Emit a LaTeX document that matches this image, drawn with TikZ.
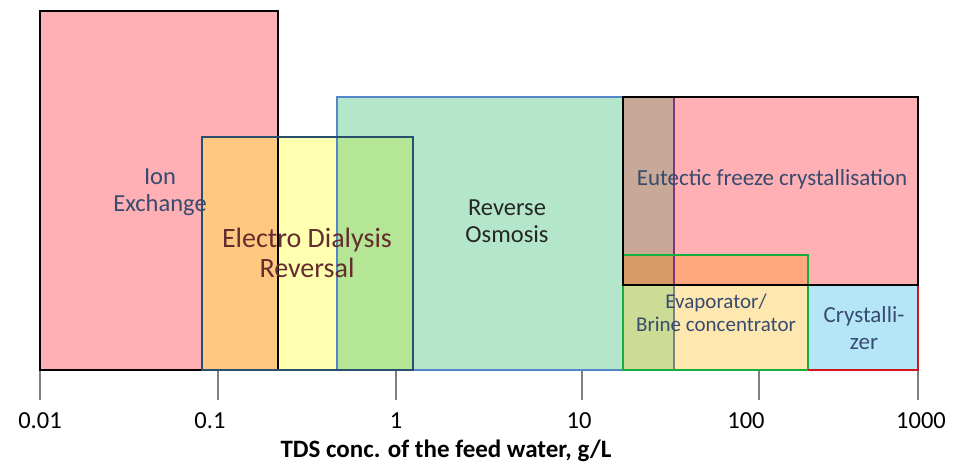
\documentclass[tikz,border=0pt]{standalone}
\usepackage{fontspec}
\setmainfont{Carlito}
\usepackage{tikz}
\definecolor{ixpink}{RGB}{255,176,180}
\definecolor{edryel}{RGB}{255,255,176}
\definecolor{edrorange}{RGB}{255,200,128}
\definecolor{rogreen}{RGB}{180,230,204}
\definecolor{edrgreen}{RGB}{180,230,150}
\definecolor{evapyel}{RGB}{255,232,176}
\definecolor{evapsalmon}{RGB}{255,168,128}
\definecolor{eutbrown}{RGB}{200,168,150}
\definecolor{eutdark}{RGB}{214,154,102}
\definecolor{evapolive}{RGB}{204,219,150}
\definecolor{crysblue}{RGB}{180,230,248}
\definecolor{edrline}{RGB}{40,80,110}
\definecolor{roline}{RGB}{85,135,200}
\definecolor{evapline}{RGB}{20,175,60}
\definecolor{crysline}{RGB}{210,20,30}
\definecolor{labelblue}{RGB}{55,75,110}
\definecolor{labelbrown}{RGB}{100,45,45}

\begin{document}
\begin{tikzpicture}[x=1pt, y=-1pt,
	boxlabel/.style={align=center, font=\fontsize{24.5}{27}\selectfont, inner sep=0pt},
	ticklabel/.style={font=\fontsize{24.5}{27}\selectfont, inner sep=0pt}]
	\useasboundingbox (0,0) rectangle (961,464);
	% fills
	\fill[ixpink] (40,11) rectangle (278,370);
	\fill[edryel] (202,137) rectangle (413,370);
	\fill[edrorange] (202,137) rectangle (278,370);
	\fill[rogreen] (337,97) rectangle (674,370);
	\fill[edrgreen] (337,137) rectangle (413,370);
	\fill[ixpink] (623,97) rectangle (918,285);
	\fill[evapyel] (623,255) rectangle (808,370);
	\fill[evapsalmon] (623,255) rectangle (808,285);
	\fill[eutbrown] (623,97) rectangle (674,255);
	\fill[eutdark] (623,255) rectangle (674,285);
	\fill[evapolive] (623,285) rectangle (674,370);
	\fill[crysblue] (808,285) rectangle (918,370);
	% borders
	\draw[line width=2.6pt] (40,11) rectangle (278,370);
	\draw[roline, line width=2.4pt] (337,370) -- (337,97) -- (623,97);
	\draw[roline, line width=2.4pt] (413,370) -- (623,370);
	\draw[violet!60!gray, line width=1.6pt] (674,97) -- (674,285);
	\draw[gray, line width=1.6pt] (674,285) -- (674,370);
	\draw[edrline, line width=2.4pt] (202,137) rectangle (413,370);
	\draw[evapline, line width=2.4pt] (623,255) rectangle (808,370);
	\draw[crysline, line width=2.4pt] (808,370) -- (918,370) -- (918,285);
	\draw[line width=2.8pt] (623,97) rectangle (918,285);
	% axis
	\foreach \xpos/\val in {40/0.01, 218/0.1, 396/1, 582/10, 759/100, 918/1000}{
		\draw[gray, line width=1.2pt] (\xpos,371) -- (\xpos,400);
	}
	\node[ticklabel] (t1) at (40,421) {0.01};
	\node[ticklabel] (t2) at (210,421) {0.1};
	\node[ticklabel] (t3) at (396,421) {1};
	\node[ticklabel] (t4) at (579,421) {10};
	\node[ticklabel] (t5) at (746,421) {100};
	\node[ticklabel] (t6) at (921,421) {1000};
	\node[font=\fontsize{25}{28}\selectfont\bfseries, inner sep=0pt] (title) at (446,451) {TDS conc. of the feed water, g/L};
	% labels
	\node[boxlabel, labelblue] (ix) at (160,192) {Ion\\Exchange};
	\node[boxlabel, labelbrown, font=\fontsize{28}{30}\selectfont] (edr) at (307,253) {Electro Dialysis\\Reversal};
	\node[boxlabel, black!85] (ro) at (507,221) {Reverse\\Osmosis};
	\node[boxlabel, labelblue, font=\fontsize{23}{27}\selectfont] (eut) at (772,179) {Eutectic freeze crystallisation};
	\node[boxlabel, labelblue, font=\fontsize{21}{23.5}\selectfont] (evap) at (716,313) {Evaporator/\\Brine concentrator};
	\node[boxlabel, labelblue, font=\fontsize{23}{27}\selectfont] (crys) at (864,328) {Crystalli-\\zer};
\end{tikzpicture}
\end{document}
